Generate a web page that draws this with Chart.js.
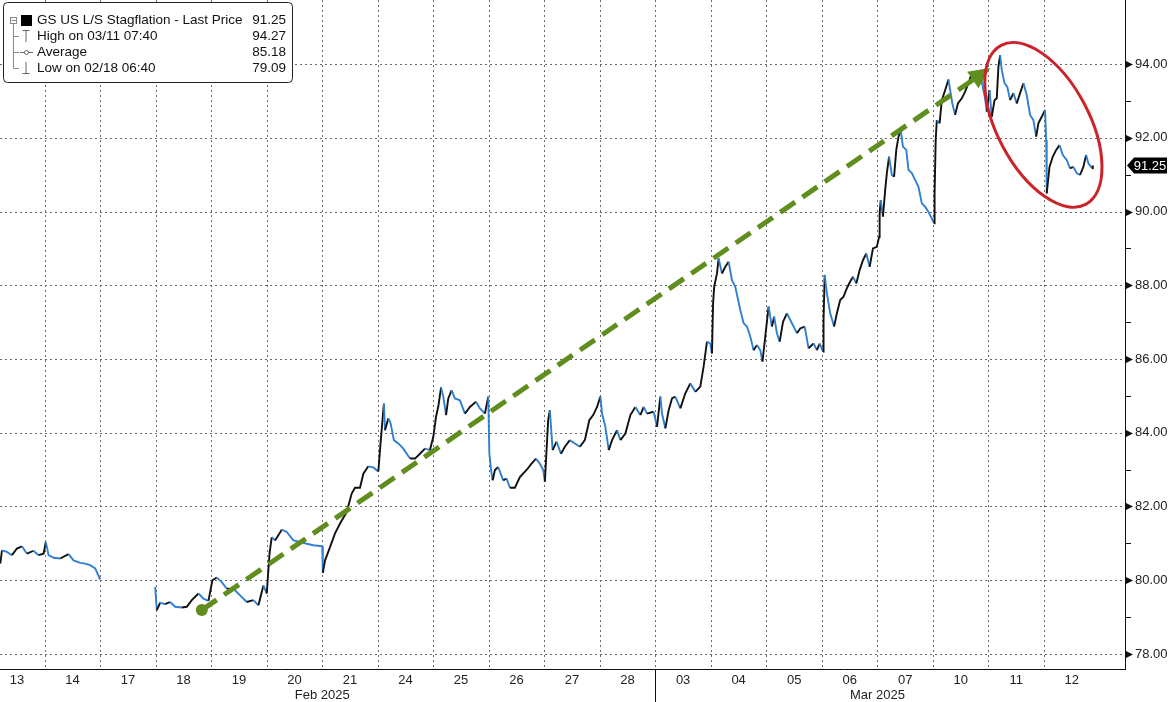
<!DOCTYPE html>
<html>
<head>
<meta charset="utf-8">
<title>GS US L/S Stagflation</title>
<script src="https://cdn.jsdelivr.net/npm/chart.js@4.4.1/dist/chart.umd.min.js"></script>
<style>
    html, body { margin: 0; padding: 0; background: #fff; }
    canvas { display: block; }
</style>
</head>
<body>
<canvas id="stagCanvas" width="1169" height="702"></canvas>
<script>
// trading days shown on the axis (Feb 17 is a holiday, no prints)
const dayLabels = ['13', '14', '17', '18', '19', '20', '21', '24', '25', '26', '27', '28',
                   '03', '04', '05', '06', '07', '10', '11', '12'];
const monthLabels = ['Feb 2025', 'Mar 2025'];
const yTicks = [78, 80, 82, 84, 86, 88, 90, 92, 94];

// position in trading days from the start of Feb 13
const priceX = [
    0.20, 0.23, 0.32, 0.41, 0.50, 0.59, 0.68, 0.80, 0.89, 0.98, 1.02, 1.07, 1.16, 1.28, 1.43, 1.52, 1.64, 1.73, 1.82, 1.91, 2.00,
    2.50,
    2.99, 3.02, 3.08, 3.17, 3.26, 3.35, 3.47, 3.56, 3.65, 3.77, 3.86, 3.95,
    4.02, 4.10, 4.19, 4.28, 4.40, 4.52, 4.64, 4.76, 4.85, 4.94,
    5.00, 5.05, 5.09, 5.15, 5.27, 5.36, 5.48, 5.60, 5.72, 5.84,
    6.00, 6.01, 6.05, 6.14, 6.23, 6.32, 6.44, 6.53, 6.59, 6.68, 6.74, 6.83, 6.92,
    7.01, 7.04, 7.09, 7.11, 7.13, 7.19, 7.23, 7.29, 7.37, 7.46, 7.58, 7.67, 7.76, 7.85, 7.94,
    8.00, 8.05, 8.09, 8.14, 8.18, 8.23, 8.27, 8.33, 8.39, 8.48, 8.57, 8.66, 8.77, 8.84, 8.93, 8.99,
    9.01, 9.04, 9.07, 9.11, 9.17, 9.26, 9.32, 9.38, 9.47, 9.56, 9.68, 9.77, 9.85, 9.92, 9.98,
    10.01, 10.04, 10.07, 10.10, 10.15, 10.22, 10.30, 10.37, 10.46, 10.55, 10.64, 10.73, 10.81, 10.88, 10.95,
    11.01, 11.04, 11.10, 11.16, 11.22, 11.31, 11.37, 11.46, 11.55, 11.64, 11.73, 11.79, 11.85, 11.97,
    12.03, 12.09, 12.12, 12.18, 12.24, 12.30, 12.36, 12.45, 12.54, 12.63, 12.72, 12.81, 12.87, 12.93, 12.99,
    13.02, 13.04, 13.06, 13.11, 13.14, 13.20, 13.26, 13.32, 13.38, 13.44, 13.53, 13.59, 13.65, 13.71, 13.77, 13.83, 13.89, 13.93, 13.98,
    14.04, 14.07, 14.10, 14.14, 14.19, 14.24, 14.30, 14.37, 14.46, 14.55, 14.61, 14.69, 14.76, 14.85, 14.91, 14.96,
    15.02, 15.03, 15.05, 15.09, 15.15, 15.22, 15.27, 15.33, 15.39, 15.45, 15.51, 15.56, 15.62, 15.68, 15.74, 15.80, 15.86, 15.92, 15.99,
    16.03, 16.04, 16.06, 16.10, 16.14, 16.17, 16.21, 16.26, 16.30, 16.34, 16.38, 16.42, 16.46, 16.52, 16.56, 16.62, 16.68, 16.74, 16.80, 16.86, 16.92, 16.98,
    17.02, 17.03, 17.05, 17.07, 17.12, 17.16, 17.22, 17.28, 17.32, 17.35, 17.40, 17.45, 17.52, 17.58, 17.64, 17.70, 17.76, 17.82, 17.88, 17.94, 17.97,
    18.02, 18.06, 18.11, 18.15, 18.18, 18.21, 18.24, 18.29, 18.34, 18.39, 18.45, 18.51, 18.57, 18.63, 18.69, 18.75, 18.81, 18.86, 18.90, 18.96,
    19.02, 19.04, 19.05, 19.10, 19.16, 19.22, 19.28, 19.34, 19.41, 19.47, 19.53, 19.59, 19.65, 19.71, 19.76, 19.80, 19.87, 19.88
];

const priceY = [
    80.45, 80.81, 80.77, 80.68, 80.86, 80.92, 80.72, 80.80, 80.68, 80.72, 81.04, 80.68, 80.61, 80.59, 80.71, 80.54, 80.47, 80.45, 80.41, 80.32, 80.02,
    null,
    79.82, 79.19, 79.39, 79.35, 79.41, 79.28, 79.26, 79.28, 79.46, 79.64, 79.50, 79.44,
    80.00, 80.07, 79.95, 79.77, 79.77, 79.59, 79.41, 79.46, 79.32, 79.86,
    79.64, 80.72, 81.17, 81.08, 81.37, 81.31, 81.08, 81.04, 80.99, 80.95,
    80.92, 80.20, 80.54, 80.90, 81.27, 81.54, 81.85, 82.35, 82.51, 82.51, 82.89, 83.09, 83.06,
    82.95, 83.53, 84.44, 84.79, 84.07, 84.39, 84.26, 83.80, 83.71, 83.57, 83.30, 83.30, 83.43, 83.57, 83.53,
    83.89, 84.44, 84.71, 85.23, 84.98, 84.48, 84.93, 85.15, 84.93, 84.88, 84.52, 84.70, 84.84, 84.66, 84.52, 84.98,
    83.43, 82.99, 82.71, 82.99, 83.07, 82.71, 82.76, 82.51, 82.51, 82.80, 82.99, 83.16, 83.30, 83.16, 82.99,
    82.67, 83.53, 84.34, 84.61, 83.53, 83.76, 83.43, 83.62, 83.80, 83.71, 83.62, 83.80, 84.34, 84.48, 84.70,
    84.98, 84.52, 84.16, 83.53, 83.80, 84.07, 83.80, 83.98, 84.48, 84.70, 84.48, 84.70, 84.52, 84.57,
    84.16, 84.98, 84.52, 84.12, 84.61, 84.93, 84.98, 84.66, 85.07, 85.34, 85.11, 85.25, 85.80, 86.47, 86.42,
    86.15, 87.51, 87.96, 88.32, 88.73, 88.32, 88.50, 88.64, 88.14, 87.96, 87.33, 86.97, 86.88, 86.61, 86.24, 86.38, 86.24, 85.93, 86.61,
    87.42, 87.15, 86.88, 87.15, 86.70, 86.47, 87.01, 87.24, 86.97, 86.70, 86.83, 86.88, 86.29, 86.42, 86.24, 86.42,
    86.20, 87.06, 88.28, 87.78, 87.24, 86.88, 87.24, 87.60, 87.69, 87.92, 88.10, 88.23, 88.05, 88.41, 88.68, 88.86, 88.50, 89.00, 89.04,
    89.31, 89.95, 90.31, 89.86, 90.58, 91.04, 91.49, 90.99, 90.94, 91.67, 92.03, 92.21, 91.76, 91.67, 91.13, 91.04, 90.85, 90.67, 90.22, 90.13, 89.99, 89.81,
    89.68, 90.49, 91.94, 92.48, 92.39, 93.02, 93.29, 93.58, 93.20, 92.93, 92.62, 92.93, 93.07, 93.25, 93.48, 93.75, 93.79, 93.66, 93.52, 93.07, 92.71,
    93.29, 92.57, 93.02, 93.07, 93.93, 94.24, 93.84, 93.48, 93.38, 93.02, 93.21, 92.93, 93.21, 93.48, 93.16, 92.62, 92.48, 92.03, 92.39, 92.57,
    92.75, 91.94, 90.49, 91.21, 91.49, 91.67, 91.80, 91.53, 91.40, 91.17, 91.21, 91.04, 90.99, 91.21, 91.53, 91.31, 91.17, 91.25
];

const legendNames = ['GS US L/S Stagflation - Last Price', 'High on 03/11 07:40', 'Average', 'Low on 02/18 06:40'];
const legendValues = ['91.25', '94.27', '85.18', '79.09'];
const lastPrice = 91.25;

// hand-drawn annotations, in data units (trading day, price)
const trendFrom = [3.83, 79.19];
const trendTo = [18.03, 93.89];
const ringCenter = [18.99, 92.35];

const FONT = "'Liberation Sans', Arial, sans-serif";
const UP = '#111111';
const DOWN = '#2f7fd2';
const GREEN = '#5f8d1e';
const RED = '#cc2229';

function monthRanges() {
    const starts = [0];
    for (let i = 1; i < dayLabels.length; i++) {
        if (parseInt(dayLabels[i], 10) < parseInt(dayLabels[i - 1], 10)) starts.push(i);
    }
    return starts.map((s, k) => ({ start: s, end: k + 1 < starts.length ? starts[k + 1] : dayLabels.length }));
}

function noPadding(s) {
    s.paddingTop = 0;
    s.paddingBottom = 0;
    s.paddingLeft = 0;
    s.paddingRight = 0;
}

const dottedGrid = {
    id: 'dottedGrid',
    beforeDatasetsDraw(chart) {
        const { ctx, chartArea: a, scales: { x, y } } = chart;
        ctx.save();
        ctx.strokeStyle = '#6a6a6a';
        ctx.lineWidth = 1;
        ctx.setLineDash([2, 3]);
        for (let i = 1; i < dayLabels.length; i++) {
            const px = Math.round(x.getPixelForValue(i)) + 0.5;
            ctx.beginPath();
            ctx.moveTo(px, a.top);
            ctx.lineTo(px, a.bottom);
            ctx.stroke();
        }
        yTicks.forEach(v => {
            const py = Math.round(y.getPixelForValue(v)) + 0.5;
            ctx.beginPath();
            ctx.moveTo(a.left, py);
            ctx.lineTo(a.right, py);
            ctx.stroke();
        });
        ctx.restore();
    }
};

const decorations = {
    id: 'decorations',
    afterDraw(chart) {
        const { ctx, chartArea: a, scales: { x, y } } = chart;
        ctx.save();

        // y axis tick marks: arrows on labelled values, short dashes between
        for (let v = yTicks[0]; v <= yTicks[yTicks.length - 1]; v++) {
            const py = Math.round(y.getPixelForValue(v)) + 0.5;
            ctx.fillStyle = '#111';
            ctx.strokeStyle = '#111';
            if (yTicks.includes(v)) {
                ctx.beginPath();
                ctx.moveTo(a.right + 1, py - 3.5);
                ctx.lineTo(a.right + 8, py);
                ctx.lineTo(a.right + 1, py + 3.5);
                ctx.closePath();
                ctx.fill();
            } else {
                ctx.lineWidth = 1;
                ctx.beginPath();
                ctx.moveTo(a.right, py);
                ctx.lineTo(a.right + 6, py);
                ctx.stroke();
            }
        }

        // month labels and separator
        ctx.font = '13px ' + FONT;
        ctx.fillStyle = '#222';
        ctx.textAlign = 'center';
        ctx.textBaseline = 'middle';
        monthRanges().forEach((m, k) => {
            ctx.fillText(monthLabels[k], x.getPixelForValue((m.start + m.end) / 2), a.bottom + 26);
            if (m.start > 0) {
                const px = Math.round(x.getPixelForValue(m.start)) + 0.5;
                ctx.strokeStyle = '#111';
                ctx.lineWidth = 1;
                ctx.beginPath();
                ctx.moveTo(px, a.bottom);
                ctx.lineTo(px, chart.height);
                ctx.stroke();
            }
        });

        // last price tag
        const ty = y.getPixelForValue(lastPrice);
        ctx.fillStyle = '#000';
        ctx.beginPath();
        ctx.moveTo(a.right + 2, ty);
        ctx.lineTo(a.right + 9, ty - 8);
        ctx.lineTo(a.right + 42, ty - 8);
        ctx.lineTo(a.right + 42, ty + 8);
        ctx.lineTo(a.right + 9, ty + 8);
        ctx.closePath();
        ctx.fill();
        ctx.fillStyle = '#fff';
        ctx.font = '13px ' + FONT;
        ctx.textAlign = 'center';
        ctx.fillText(lastPrice.toFixed(2), a.right + 25, ty + 1);

        // green dashed trend arrow
        const p0 = { x: x.getPixelForValue(trendFrom[0]), y: y.getPixelForValue(trendFrom[1]) };
        const p1 = { x: x.getPixelForValue(trendTo[0]), y: y.getPixelForValue(trendTo[1]) };
        const ang = Math.atan2(p1.y - p0.y, p1.x - p0.x);
        const head = 21;
        ctx.strokeStyle = GREEN;
        ctx.fillStyle = GREEN;
        ctx.lineWidth = 5;
        ctx.setLineDash([18, 9]);
        ctx.beginPath();
        ctx.moveTo(p0.x, p0.y);
        ctx.lineTo(p1.x - Math.cos(ang) * head * 0.7, p1.y - Math.sin(ang) * head * 0.7);
        ctx.stroke();
        ctx.setLineDash([]);
        ctx.beginPath();
        ctx.arc(p0.x, p0.y, 6, 0, Math.PI * 2);
        ctx.fill();
        ctx.save();
        ctx.translate(p1.x, p1.y);
        ctx.rotate(ang);
        ctx.beginPath();
        ctx.moveTo(0, 0);
        ctx.lineTo(-head, -10);
        ctx.lineTo(-head, 10);
        ctx.closePath();
        ctx.fill();
        ctx.restore();

        // red ring around the latest pullback
        ctx.strokeStyle = RED;
        ctx.lineWidth = 3;
        ctx.beginPath();
        ctx.ellipse(x.getPixelForValue(ringCenter[0]), y.getPixelForValue(ringCenter[1]),
                    90, 46, 62 * Math.PI / 180, 0, Math.PI * 2);
        ctx.stroke();

        // legend box
        ctx.fillStyle = '#fff';
        ctx.strokeStyle = '#222';
        ctx.lineWidth = 1;
        ctx.beginPath();
        ctx.roundRect(3.5, 2.5, 289, 80, 4);
        ctx.fill();
        ctx.stroke();

        const rows = [20.5, 36.5, 52.5, 68.5];
        ctx.strokeStyle = '#888';
        ctx.beginPath();
        ctx.moveTo(13.5, 24);
        ctx.lineTo(13.5, rows[3]);
        for (let r = 1; r < rows.length; r++) {
            ctx.moveTo(13.5, rows[r]);
            ctx.lineTo(19, rows[r]);
        }
        ctx.stroke();
        ctx.strokeRect(10.5, 17.5, 6, 6);
        ctx.beginPath();
        ctx.moveTo(11.5, 20.5);
        ctx.lineTo(16, 20.5);
        ctx.stroke();
        ctx.fillStyle = '#000';
        ctx.fillRect(21, 15, 11, 11);

        ctx.strokeStyle = '#666';
        ctx.beginPath();
        ctx.moveTo(22.5, 30.5); ctx.lineTo(29.5, 30.5);
        ctx.moveTo(26, 30.5); ctx.lineTo(26, 42);
        ctx.moveTo(20, 52.5); ctx.lineTo(33, 52.5);
        ctx.moveTo(26, 62); ctx.lineTo(26, 73.5);
        ctx.moveTo(22.5, 73.5); ctx.lineTo(29.5, 73.5);
        ctx.stroke();
        ctx.beginPath();
        ctx.arc(26.5, 52.5, 2, 0, Math.PI * 2);
        ctx.fillStyle = '#fff';
        ctx.fill();
        ctx.stroke();

        ctx.font = '13.5px ' + FONT;
        ctx.fillStyle = '#111';
        ctx.textBaseline = 'middle';
        rows.forEach((ry, r) => {
            ctx.textAlign = 'left';
            ctx.fillText(legendNames[r], 37, ry);
            ctx.textAlign = 'right';
            ctx.fillText(legendValues[r], 286, ry);
        });

        ctx.restore();
    }
};

new Chart(document.getElementById('stagCanvas').getContext('2d'), {
    type: 'line',
    data: {
        datasets: [{
            label: 'GS US L/S Stagflation',
            data: priceX.map((px, i) => ({ x: px, y: priceY[i] })),
            borderColor: UP,
            borderWidth: 1.9,
            pointRadius: 0,
            tension: 0,
            spanGaps: false,
            segment: {
                borderColor: c => c.p1.parsed.y < c.p0.parsed.y ? DOWN : UP
            }
        }]
    },
    options: {
        responsive: false,
        animation: false,
        layout: { padding: 0 },
        plugins: {
            legend: { display: false },
            tooltip: { enabled: false }
        },
        scales: {
            x: {
                type: 'linear',
                position: 'bottom',
                min: 0.195,
                max: 20.46,
                grid: { display: false, drawTicks: false },
                border: { display: true, color: '#111', width: 1 },
                afterBuildTicks: s => { s.ticks = dayLabels.map((d, i) => ({ value: i + 0.5 })); },
                afterFit: s => { s.height = 33; noPadding(s); },
                ticks: {
                    autoSkip: false,
                    maxRotation: 0,
                    padding: 4,
                    color: '#222',
                    font: { family: FONT, size: 13 },
                    callback: (v, i) => dayLabels[i]
                }
            },
            y: {
                type: 'linear',
                position: 'right',
                min: 77.593,
                max: 95.736,
                grid: { display: false, drawTicks: true, tickLength: 10 },
                border: { display: true, color: '#111', width: 1 },
                afterBuildTicks: s => { s.ticks = yTicks.map(v => ({ value: v })); },
                afterFit: s => { s.width = 44; noPadding(s); },
                ticks: {
                    padding: 0,
                    color: '#222',
                    font: { family: FONT, size: 13 },
                    callback: v => v.toFixed(2)
                }
            }
        }
    },
    plugins: [dottedGrid, decorations]
});
</script>
</body>
</html>
